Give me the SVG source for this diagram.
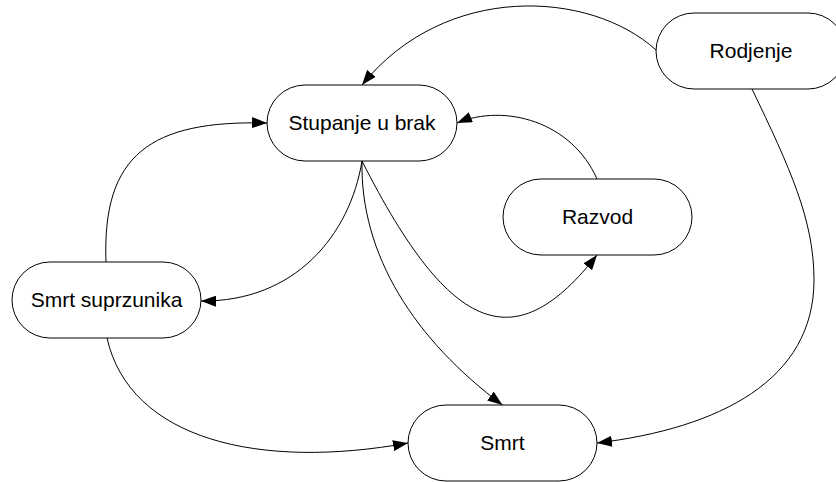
<svg xmlns="http://www.w3.org/2000/svg" width="836" height="482" viewBox="0 0 836 482">
<style>
.node rect{fill:#fff;stroke:#000;stroke-width:1}
.node text{font-family:"Liberation Sans",Arial,sans-serif;font-size:21px;text-anchor:middle;fill:#000}
.edge{fill:none;stroke:#000;stroke-width:1;marker-end:url(#arr)}
</style>
<defs>
<marker id="arr" markerUnits="userSpaceOnUse" markerWidth="15" markerHeight="11" refX="15" refY="5.5" orient="auto">
<path d="M0,0 L15,5.5 L0,11 z" fill="#000"/>
</marker>
</defs>
<rect width="836" height="482" fill="#fff"/>
<g id="node-rodjenje" class="node"><rect x="656" y="13" width="190" height="76" rx="38"/><text x="751" y="58">Rodjenje</text></g>
<g id="node-stupanje" class="node"><rect x="267" y="85" width="190" height="76" rx="38"/><text x="362" y="130">Stupanje u brak</text></g>
<g id="node-razvod" class="node"><rect x="503" y="179" width="189" height="76" rx="38"/><text x="597.5" y="224">Razvod</text></g>
<g id="node-smrt-suprzunika" class="node"><rect x="12" y="262" width="189" height="76" rx="38"/><text x="106.5" y="307">Smrt suprzunika</text></g>
<g id="node-smrt" class="node"><rect x="408" y="405" width="189" height="76" rx="38"/><text x="502.5" y="450">Smrt</text></g>
<g id="connectors">
<path class="edge" d="M656,50 C590,-10 445,-18 362,85"/>
<path class="edge" d="M752,89 C790,168 814,220 814,280 C814,380 720,428 597,443"/>
<path class="edge" d="M597,179 C572,122 505,103 457,123"/>
<path class="edge" d="M106,262 C102,155 150,120 267,123"/>
<path class="edge" d="M362,161 C350,235 295,302 201,301"/>
<path class="edge" d="M107,338 C130,440 260,470 408,443"/>
<path class="edge" d="M362,161 C360,255 415,340 502.5,405"/>
<path class="edge" d="M362,161 C452,339 517,357 597,255"/>
</g>
</svg>
